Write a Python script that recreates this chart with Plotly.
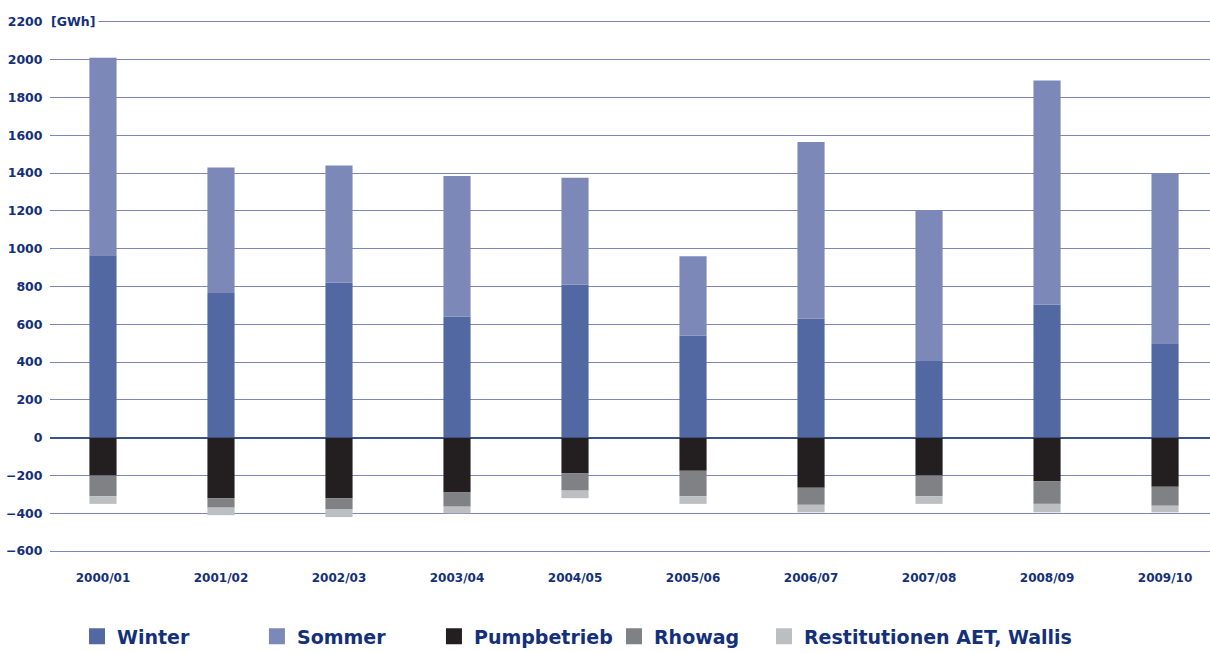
import plotly.graph_objects as go

years = ["2000/01", "2001/02", "2002/03", "2003/04", "2004/05",
         "2005/06", "2006/07", "2007/08", "2008/09", "2009/10"]
winter = [965, 765, 820, 640, 810, 540, 630, 410, 705, 500]
sommer = [1045, 665, 620, 745, 565, 420, 935, 790, 1185, 900]
pumpbetrieb = [-200, -320, -320, -290, -190, -175, -265, -200, -230, -260]
rhowag = [-110, -50, -60, -75, -90, -135, -90, -110, -120, -100]
restitutionen = [-40, -40, -40, -35, -40, -40, -40, -40, -45, -35]

y_ticks = [-600, -400, -200, 0, 200, 400, 600, 800, 1000, 1200,
           1400, 1600, 1800, 2000, 2200]

navy = "#14307a"
font_family = "'DejaVu Sans', 'Open Sans', sans-serif"

series = [
    ("Winter", winter, "#5268a3"),
    ("Sommer", sommer, "#7c89b8"),
    ("Pumpbetrieb", pumpbetrieb, "#231f20"),
    ("Rhowag", rhowag, "#808184"),
    ("Restitutionen AET, Wallis", restitutionen, "#bdbec1"),
]
legend_x = [0.0233, 0.1784, 0.331, 0.4862, 0.6155]
legend_ids = ["legend", "legend2", "legend3", "legend4", "legend5"]

fig = go.Figure()
for (name, vals, col), lid in zip(series, legend_ids):
    fig.add_trace(go.Bar(
        x=years, y=vals, name=name, marker_color=col,
        marker_line_width=0, width=0.23, showlegend=False,
    ))
    fig.add_trace(go.Scatter(
        x=[None], y=[None], mode="markers", name=name,
        marker=dict(symbol="square", size=20, color=col),
        showlegend=True, legend=lid,
    ))

legend_common = dict(
    orientation="h", y=-0.1565, yanchor="middle", xanchor="left",
    font=dict(size=19, color=navy, weight=700),
    itemsizing="trace", itemwidth=30, bgcolor="rgba(0,0,0,0)",
)
legends = {}
for lid, lx in zip(legend_ids, legend_x):
    legends[lid] = dict(legend_common, x=lx)

fig.update_layout(
    barmode="relative",
    width=1210, height=653,
    margin=dict(l=50, r=0, t=20, b=100, autoexpand=False),
    plot_bgcolor="white", paper_bgcolor="white",
    font=dict(family=font_family, color=navy),
    xaxis=dict(
        type="category", range=[-0.449, 9.381],
        showgrid=False, zeroline=False, showline=False,
        ticks="outside", ticklen=14, tickcolor="rgba(0,0,0,0)",
        tickfont=dict(size=12, color=navy, weight=700),
    ),
    yaxis=dict(
        range=[-610, 2210], tickvals=y_ticks,
        showgrid=True, gridcolor="#7c87b6", gridwidth=1,
        zeroline=True, zerolinecolor="#3a5190", zerolinewidth=2,
        showline=False, ticks="outside", ticklen=4,
        tickcolor="rgba(0,0,0,0)",
        tickfont=dict(size=12.5, color=navy, weight=700),
    ),
    annotations=[dict(
        x=0, xref="paper", y=2200, yref="y", xanchor="left", yanchor="middle",
        text="[GWh]", showarrow=False, bgcolor="white", borderpad=3,
        font=dict(size=12.5, color=navy, weight=700),
        xshift=-3,
    )],
    **legends,
)

fig.write_html("out.html")
